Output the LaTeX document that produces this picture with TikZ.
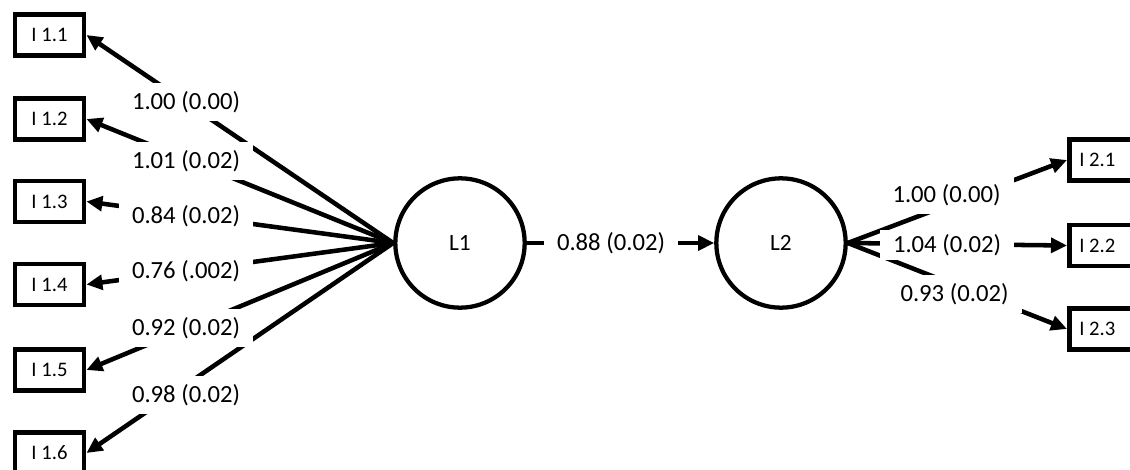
\documentclass[tikz,border=0pt]{standalone}
\usepackage{fontspec}
\setmainfont{Carlito}
\usetikzlibrary{arrows.meta}
\begin{document}
\begin{tikzpicture}[x=0.75pt,y=-0.75pt,
  ind/.style={draw,line width=3.4pt,minimum width=52pt,minimum height=31pt,inner sep=0pt,font=\fontsize{15.5}{17}\selectfont},
  lat/.style={draw,circle,line width=3.2pt,minimum size=97pt,inner sep=0pt,font=\fontsize{17.5}{19}\selectfont},
  conn/.style={line width=3.4pt,-{Triangle[length=12pt,width=11pt]}},
  lab/.style={fill=white,inner xsep=10pt,inner ysep=6pt,font=\fontsize{18.5}{20}\selectfont}]
\useasboundingbox (0,0) rectangle (1130,470);
\clip (0,0) rectangle (1130,470);
\node[lat] (L1) at (460,243) {L1};
\node[lat] (L2) at (781,243) {L2};
\node[ind] (I11) at (49.5,35) {I 1.1};
\node[ind] (I12) at (49.5,119) {I 1.2};
\node[ind] (I13) at (49.5,201.5) {I 1.3};
\node[ind] (I14) at (49.5,284.5) {I 1.4};
\node[ind] (I15) at (49.5,370) {I 1.5};
\node[ind] (I16) at (49.5,453) {I 1.6};
\node[ind,anchor=west] (I21) at (1067,160) {\hspace*{-10pt}I 2.1};
\node[ind,anchor=west] (I22) at (1067,245.5) {\hspace*{-10pt}I 2.2};
\node[ind,anchor=west] (I23) at (1067,329) {\hspace*{-10pt}I 2.3};
\draw[conn] (L1.west) -- (I11.east);
\draw[conn] (L1.west) -- (I12.east);
\draw[conn] (L1.west) -- (I13.east);
\draw[conn] (L1.west) -- (I14.east);
\draw[conn] (L1.west) -- (I15.east);
\draw[conn] (L1.west) -- (I16.east);
\draw[conn] (L1.east) -- (L2.west);
\draw[conn] (L2.east) -- (I21.west);
\draw[conn] (L2.east) -- (I22.west);
\draw[conn] (L2.east) -- (I23.west);
\node[lab] (a1) at (186,102) {1.00 (0.00)};
\node[lab] (a2) at (186,161) {1.01 (0.02)};
\node[lab] (a3) at (186,216) {0.84 (0.02)};
\node[lab] (a4) at (186,271) {0.76 (.002)};
\node[lab] (a5) at (186,328) {0.92 (0.02)};
\node[lab] (a6) at (186,395) {0.98 (0.02)};
\node[lab] (m) at (611,243) {0.88 (0.02)};
\node[lab] (b1) at (946.5,195) {1.00 (0.00)};
\node[lab,inner ysep=3pt] (b2) at (947,245) {1.04 (0.02)};
\node[lab] (b3) at (954.5,294) {0.93 (0.02)};
\end{tikzpicture}
\end{document}
